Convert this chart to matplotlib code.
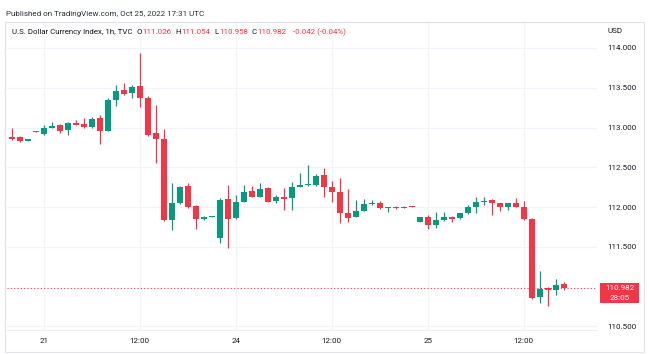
import matplotlib
matplotlib.use("Agg")
import matplotlib.pyplot as plt
from matplotlib.patches import Rectangle
import numpy as np

plt.rcParams['font.family'] = ['Roboto', 'DejaVu Sans']

# ---- data (1h candles, U.S. Dollar Currency Index) ----
opens = [112.88, 112.88, 112.83, 112.95, 112.92, 113.00, 113.03, 112.97, 113.06, 113.045,
         113.01, 113.115, 112.955, 113.345, 113.47, 113.43, 113.52, 113.375, 112.925, 112.855,
         111.835, 112.055, 112.265, 112.01, 111.855, 111.88, 111.605, 112.10, 111.86, 112.065,
         112.20, 112.13, 112.235, 112.08, 112.12, 112.11, 112.255, 112.275, 112.28, 112.40,
         112.25, 112.19, 111.92, 111.875, 111.955, 112.035, 112.045, 111.99, 112.005, 111.99,
         112.013, 111.815, 111.87, 111.775, 111.835, 111.88, 111.86, 111.92, 112.0, 112.065,
         112.09, 112.045, 112.005, 112.045, 111.995, 111.855, 110.865, 110.978, 110.958, 111.026]
highs = [113.00, 112.89, 112.86, 112.955, 113.03, 113.07, 113.05, 113.07, 113.09, 113.115,
         113.135, 113.155, 113.365, 113.535, 113.565, 113.53, 113.935, 113.39, 113.285, 112.98,
         112.305, 112.27, 112.305, 112.02, 111.89, 111.885, 112.115, 112.275, 112.15, 112.275,
         112.265, 112.30, 112.25, 112.15, 112.24, 112.32, 112.43, 112.53, 112.415, 112.485,
         112.33, 112.365, 112.225, 112.09, 112.10, 112.09, 112.08, 112.00, 112.01, 112.01,
         112.015, 111.875, 111.90, 111.94, 111.935, 111.885, 111.93, 112.025, 112.12, 112.13,
         112.095, 112.05, 112.055, 112.11, 112.08, 111.86, 111.195, 110.995, 111.09, 111.054]
lows = [112.84, 112.82, 112.83, 112.94, 112.91, 112.99, 112.935, 112.905, 113.03, 113.00,
        113.00, 112.79, 112.95, 113.27, 113.41, 113.37, 113.26, 112.89, 112.55, 111.82,
        111.71, 112.04, 111.99, 111.72, 111.84, 111.875, 111.545, 111.485, 111.85, 112.06,
        112.12, 112.12, 112.06, 112.05, 111.96, 111.96, 112.25, 112.27, 112.27, 112.13,
        112.065, 111.80, 111.815, 111.87, 111.95, 112.03, 111.98, 111.94, 111.98, 111.985,
        112.00, 111.81, 111.72, 111.73, 111.83, 111.81, 111.85, 111.915, 111.93, 112.025,
        111.905, 111.95, 111.96, 112.0, 111.84, 110.84, 110.79, 110.755, 110.895, 110.958]
closes = [112.86, 112.83, 112.85, 112.94, 112.99, 113.02, 112.96, 113.06, 113.035, 113.01,
          113.105, 112.955, 113.345, 113.46, 113.42, 113.515, 113.375, 112.905, 112.855, 111.835,
          112.045, 112.255, 112.005, 111.855, 111.88, 111.882, 112.09, 111.85, 112.065, 112.19,
          112.13, 112.225, 112.065, 112.12, 112.105, 112.25, 112.275, 112.28, 112.39, 112.25,
          112.19, 111.92, 111.86, 111.955, 112.035, 112.055, 111.985, 111.995, 111.985, 112.005,
          112.004, 111.87, 111.775, 111.835, 111.88, 111.845, 111.92, 112.005, 112.065, 112.08,
          112.045, 112.0, 112.045, 112.005, 111.85, 110.85, 110.965, 110.958, 111.02, 110.982]

time_tick_idx = [4, 16, 28, 40, 52, 64]
time_tick_labels = ["21", "12:00", "24", "12:00", "25", "12:00"]
price_ticks = [110.5, 111.5, 112.0, 112.5, 113.0, 113.5, 114.0]
last_price = 110.982
countdown = "28:05"
legend_ohlc = [("O", "111.026"), ("H", "111.054"), ("L", "110.958"), ("C", "110.982")]
legend_change = "-0.042 (-0.04%)"
title_text = "U.S. Dollar Currency Index, 1h, TVC"
published_text = "Published on TradingView.com, Oct 25, 2022 17:31 UTC"

UP = '#089981'
DOWN = '#f23645'
TXT = '#131722'
GRID = '#f0f3fa'

W, H = 649, 354
fig = plt.figure(figsize=(W / 100, H / 100), dpi=100)
fig.patch.set_facecolor('white')
renderer = fig.canvas.get_renderer()

def fx(px):
    return px / W

def fy(py):
    return 1 - py / H

def width_px(t):
    return t.get_window_extent(renderer=renderer).width

def fitted_text(px, py, s, target_w, color, fs0=6.0):
    t = fig.text(fx(px), fy(py), s, fontsize=fs0, color=color, va='center', ha='left')
    w = width_px(t)
    t.set_fontsize(fs0 * target_w / w)
    return t

# outer frame
fig.patches.append(Rectangle((fx(5), fy(352)), fx(644) - fx(5), fy(22) - fy(352),
                             transform=fig.transFigure, fill=False,
                             edgecolor='#e0e3eb', linewidth=0.8))

left, right, top, bottom = 7, 597, 23, 330
ax = fig.add_axes([fx(left), fy(bottom), fx(right) - fx(left), fy(top) - fy(bottom)])
ax.set_facecolor('white')

n = len(opens)
x = np.arange(n)
o = np.array(opens); h = np.array(highs); l = np.array(lows); c = np.array(closes)
colors = [UP if cc >= oo else DOWN for oo, cc in zip(o, c)]

ax.vlines(x, l, h, colors=colors, linewidth=0.9, zorder=3)
body_bottom = np.minimum(o, c)
body_h = np.maximum(np.abs(c - o), 0.012)
ax.bar(x, body_h, bottom=body_bottom, width=0.72, color=colors, linewidth=0, zorder=4)

x0 = (left - 11.7) / 8
x1 = (right - 11.7) / 8
ax.set_xlim(x0, x1)
ylo = 112 - (bottom - 207) / 79.5
yhi = 112 + (207 - top) / 79.5
ax.set_ylim(ylo, yhi)

for t in price_ticks:
    ax.axhline(t, color=GRID, linewidth=0.9, zorder=0)
for t in time_tick_idx:
    ax.axvline(t, color=GRID, linewidth=0.9, zorder=0)

ax.axhline(last_price, color=DOWN, linewidth=0.8, linestyle=(0, (1, 2)), zorder=2)

ax.set_xticks(time_tick_idx)
ax.set_xticklabels(time_tick_labels)
ax.yaxis.tick_right()
ax.set_yticks(price_ticks)
ax.set_yticklabels([f"{t:.3f}" for t in price_ticks])
ax.tick_params(axis='both', length=0, labelsize=5.8, labelcolor=TXT)
ax.tick_params(axis='y', pad=7.5)
ax.tick_params(axis='x', pad=6)
for lab in ax.get_yticklabels():
    lab.set_horizontalalignment('left')
for s in ax.spines.values():
    s.set_visible(False)
ax.spines['bottom'].set_visible(True)
ax.spines['bottom'].set_color('#eef0f4')
ax.spines['bottom'].set_linewidth(0.8)

# header texts
fitted_text(6, 14, published_text, 201, '#2a2e39')
t0 = fitted_text(12, 32, title_text, 122, TXT)
fs = t0.get_fontsize()
cur = 12 + width_px(t0) + 4
for letter, val in legend_ohlc:
    tl = fig.text(fx(cur), fy(32), letter, fontsize=fs, color=TXT, va='center', ha='left')
    cur += width_px(tl) + 0.5
    tv = fig.text(fx(cur), fy(32), val, fontsize=fs, color=DOWN, va='center', ha='left')
    cur += width_px(tv) + 4
fig.text(fx(cur + 2), fy(32), legend_change, fontsize=fs, color=DOWN, va='center', ha='left')

fig.text(fx(607), fy(31), "USD", fontsize=5.8, color=TXT, va='center', ha='left')

# last price label
fig.patches.append(Rectangle((fx(600), fy(303)), fx(639) - fx(600), fy(283) - fy(303),
                             transform=fig.transFigure, facecolor=DOWN, edgecolor='none'))
fig.text(fx(619.5), fy(288.5), f"{last_price:.3f}", fontsize=5.8, color='white', va='center', ha='center')
fig.text(fx(619.5), fy(297.5), countdown, fontsize=5.8, color='white', va='center', ha='center')

fig.savefig("out.png", dpi=100, facecolor='white')
